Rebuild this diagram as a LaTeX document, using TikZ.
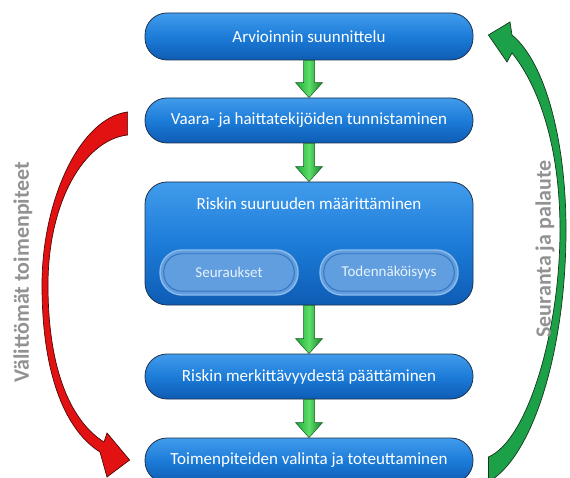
\documentclass[tikz,border=0pt]{standalone}
\usepackage{fontspec}
\setmainfont{Carlito}
\usetikzlibrary{calc}

\definecolor{boxtop}{RGB}{66,156,236}
\definecolor{boxmid}{RGB}{28,124,216}
\definecolor{boxbot}{RGB}{14,92,180}
\definecolor{boxline}{RGB}{28,50,80}
\definecolor{pillfill}{RGB}{96,158,224}
\definecolor{pillrim}{RGB}{138,188,236}
\definecolor{pillinner}{RGB}{52,112,186}
\definecolor{pilltext}{RGB}{232,242,252}
\definecolor{gleft}{RGB}{30,168,56}
\definecolor{gmid}{RGB}{92,222,104}
\definecolor{gright}{RGB}{18,130,40}
\definecolor{gline}{RGB}{20,90,30}
\definecolor{redfill}{RGB}{226,18,18}
\definecolor{redline}{RGB}{80,8,8}
\definecolor{fbfill}{RGB}{28,160,72}
\definecolor{fbline}{RGB}{18,56,28}
\definecolor{sidegray}{RGB}{146,146,146}

\begin{document}
\begin{tikzpicture}[x=1pt,y=-1pt,
  stage/.style={draw=boxline, line width=0.8pt, rounded corners=22pt,
    top color=boxtop, bottom color=boxbot, middle color=boxmid,
    minimum width=328pt, text=white, inner sep=0pt,
    font=\fontsize{17}{20}\selectfont},
  pill/.style={draw=pillrim, line width=1.4pt, fill=pillfill,
    rounded corners=22pt, minimum width=138pt, minimum height=45pt,
    inner sep=0pt, text=pilltext, font=\fontsize{15}{18}\selectfont},
  pillring/.style={draw=pillinner, line width=0.9pt, rounded corners=18pt},
  flowarrow/.style={draw=gline, line width=0.5pt,
    left color=gleft, right color=gright, middle color=gmid},
  redarrow/.style={fill=redfill, draw=redline, line width=0.7pt},
  fbarrow/.style={fill=fbfill, draw=fbline, line width=0.7pt},
  sidetext/.style={text=sidegray, inner sep=0pt,
    font=\bfseries\fontsize{22}{24}\selectfont}]

\path[use as bounding box] (0,0) rectangle (570,478);
\clip (0,0) rectangle (570,478);

% process steps
\node[stage, minimum height=47pt] (plan)   at (309,36.5)  {Arvioinnin suunnittelu};
\node[stage, minimum height=45pt] (ident)  at (309,120.5) {Vaara- ja haittatekijöiden tunnistaminen};
\node[stage, minimum height=123pt] (size)  at (309,243.5) {};
\node[text=white, font=\fontsize{17}{20}\selectfont, inner sep=0pt] (sizetitle)
  at (309,204) {Riskin suuruuden määrittäminen};
\node[stage, minimum height=45pt] (signif) at (309,376.5) {Riskin merkittävyydestä päättäminen};
\node[stage, minimum height=45pt] (act)    at (309,460.5) {Toimenpiteiden valinta ja toteuttaminen};

% components of risk size
\node[pill] (cons) at (229,272.5) {Seuraukset};
\node[pill] (prob) at (389,272.5) {Todennäköisyys};
\foreach \p in {cons,prob}
  \draw[pillring] ($(\p.north west)+(4.5,4.5)$) rectangle ($(\p.south east)+(-4.5,-4.5)$);

% downward flow arrows between steps
\foreach \a/\b in {plan/ident, ident/size, size/signif, signif/act}
  \path[flowarrow] ($(\a.south)+(-5.5,0)$) -- ($(\b.north)+(-5.5,-15)$)
    -- ($(\b.north)+(-13.5,-15)$) -- (\b.north) -- ($(\b.north)+(13.5,-15)$)
    -- ($(\b.north)+(5.5,-15)$) -- ($(\a.south)+(5.5,0)$) -- cycle;

% immediate actions: from identification straight to actions
\coordinate (rtailA) at ($(ident.west)+(-17,-8.5)$);
\coordinate (rtailB) at ($(ident.west)+(-17,14.5)$);
\coordinate (rtip)   at ($(act.west)+(-15,-0.5)$);
\path[redarrow] (rtailA) .. controls (80,118) and (42,200) .. (42,285)
  .. controls (42,380) and (68,432) .. (100,452)
  -- (107,477) -- (rtip) -- (107,433) -- (104,442)
  .. controls (72,422) and (48,372) .. (48,285)
  .. controls (48,202) and (84,140) .. (rtailB) -- cycle;

% follow-up and feedback: from actions back to planning
\coordinate (gtip)   at ($(plan.east)+(15,-1.5)$);
\coordinate (gtailA) at ($(act.east)+(15,21.5)$);
\coordinate (gtailB) at ($(act.east)+(15,-3.5)$);
\path[fbarrow] (gtip) -- (510,22) -- (512,35)
  .. controls (545,62) and (566,140) .. (566,230)
  .. controls (566,345) and (535,455) .. (gtailA)
  -- (gtailB)
  .. controls (528,440) and (560,330) .. (560,230)
  .. controls (560,145) and (538,85) .. (512,53)
  -- (507,62) -- cycle;

% side labels
\node[sidetext, rotate=90] (immlabel) at (23,272) {Välittömät toimenpiteet};
\node[sidetext, rotate=90] (fblabel)  at (545,249) {Seuranta ja palaute};
\end{tikzpicture}
\end{document}
